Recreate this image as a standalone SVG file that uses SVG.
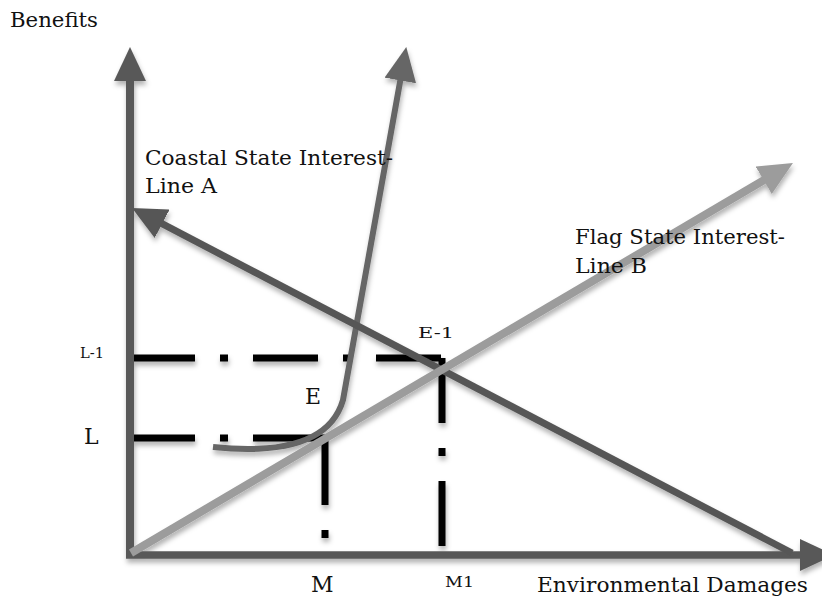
<svg xmlns="http://www.w3.org/2000/svg" width="822" height="601" viewBox="0 0 822 601">
<style>
.lbl{font-family:"DejaVu Serif","Liberation Serif",serif;fill:#111;}
.big{font-size:21px;}
.let{font-size:22px;}
.sm{font-size:15px;}
.dash{fill:none;stroke:#000;stroke-width:7;stroke-linecap:butt;}
</style>
<defs>
<filter id="sh" x="-10%" y="-10%" width="120%" height="130%">
<feDropShadow dx="1" dy="4" stdDeviation="2.5" flood-color="#000" flood-opacity="0.3"/>
</filter>
<marker id="aAx" viewBox="0 0 34 32" refX="4" refY="16" markerWidth="34" markerHeight="32" markerUnits="userSpaceOnUse" orient="auto"><path d="M0,0 L34,16 L0,32 z" fill="#595959"/></marker>
<marker id="aA" viewBox="0 0 34 32" refX="4" refY="16" markerWidth="34" markerHeight="32" markerUnits="userSpaceOnUse" orient="auto"><path d="M0,0 L34,16 L0,32 z" fill="#575757"/></marker>
<marker id="aB" viewBox="0 0 34 32" refX="4" refY="16" markerWidth="34" markerHeight="32" markerUnits="userSpaceOnUse" orient="auto"><path d="M0,0 L34,16 L0,32 z" fill="#9c9c9c"/></marker>
<marker id="aC" viewBox="0 0 34 32" refX="4" refY="16" markerWidth="34" markerHeight="32" markerUnits="userSpaceOnUse" orient="auto"><path d="M0,0 L34,16 L0,32 z" fill="#666666"/></marker>
</defs>
<g id="connectors" filter="url(#sh)">
<path id="dash-L1" class="dash" d="M130,358 H442" stroke-dasharray="65 25 8 25"/>
<path id="dash-M1" class="dash" d="M442,358 V553" stroke-dasharray="65 25 8 25"/>
<path id="dash-L" class="dash" d="M130,438 H326" stroke-dasharray="65 25 8 25 75"/>
<path id="dash-M" class="dash" d="M325,438 V553" stroke-dasharray="67 25 8 100"/>
<path id="y-axis" d="M130,555 V77" fill="none" stroke="#595959" stroke-width="8" marker-end="url(#aAx)"/>
<path id="x-axis" d="M126,555 H804" fill="none" stroke="#595959" stroke-width="7.5" marker-end="url(#aAx)"/>
<path id="curve" d="M213,447 C290,455 332,438 343,400 L401,76.5" fill="none" stroke="#666666" stroke-width="6" marker-end="url(#aC)"/>
<path id="line-A" d="M792,553 L158.6,221.9" fill="none" stroke="#575757" stroke-width="7" marker-end="url(#aA)"/>
<path id="line-B" d="M131,553 L767.1,178.2" fill="none" stroke="#9c9c9c" stroke-width="8" marker-end="url(#aB)"/>
</g>
<g id="labels">
<text class="lbl big" x="10" y="27" textLength="88" lengthAdjust="spacingAndGlyphs">Benefits</text>
<g id="node-line-A"><text class="lbl big" x="145" y="165" textLength="248" lengthAdjust="spacingAndGlyphs">Coastal State Interest-</text><text class="lbl big" x="145" y="193" textLength="72" lengthAdjust="spacingAndGlyphs">Line A</text></g>
<g id="node-line-B"><text class="lbl big" x="575" y="244" textLength="210" lengthAdjust="spacingAndGlyphs">Flag State Interest-</text><text class="lbl big" x="575" y="273" textLength="72" lengthAdjust="spacingAndGlyphs">Line B</text></g>
<g id="node-E1"><text class="lbl sm" x="418" y="338" textLength="36" lengthAdjust="spacingAndGlyphs">E-1</text></g>
<g id="node-L1"><text class="lbl sm" x="80" y="358" textLength="24" lengthAdjust="spacingAndGlyphs">L-1</text></g>
<g id="node-E"><text class="lbl let" x="305" y="404">E</text></g>
<g id="node-L"><text class="lbl let" x="84" y="444">L</text></g>
<g id="node-M"><text class="lbl let" x="311" y="592">M</text></g>
<g id="node-M1"><text class="lbl sm" x="445" y="587" textLength="29" lengthAdjust="spacingAndGlyphs">M1</text></g>
<text class="lbl big" x="537" y="592" textLength="271" lengthAdjust="spacingAndGlyphs">Environmental Damages</text>
</g>
</svg>
